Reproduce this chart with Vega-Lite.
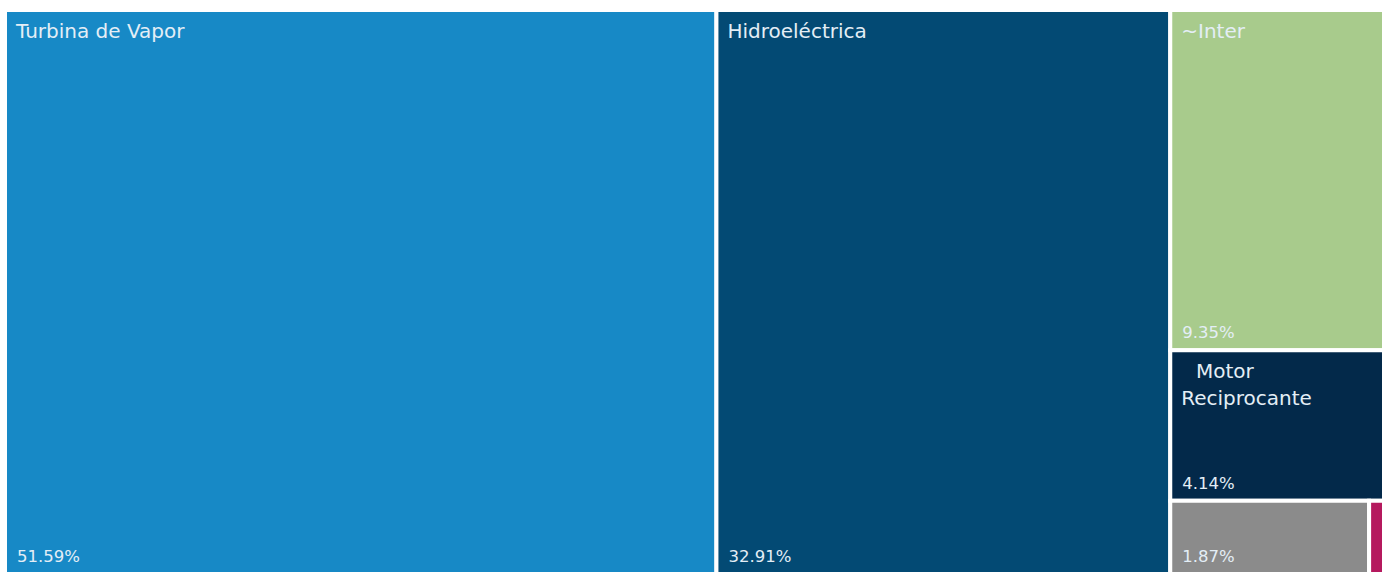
{
  "$schema": "https://vega.github.io/schema/vega-lite/v6.json",
  "autosize": "none",
  "padding": {"left": 5, "top": 10, "right": 0, "bottom": 0},
  "width": 1379,
  "height": 564,
  "background": "white",
  "config": {"view": {"stroke": null}},
  "data": {
    "values": [
      {"name": "Turbina de Vapor", "label": "Turbina de Vapor", "pct": 51.59, "col": 1, "row": 1, "sub": 1},
      {"name": "Hidroeléctrica", "label": "Hidroeléctrica", "pct": 32.91, "col": 2, "row": 1, "sub": 1},
      {"name": "~Inter", "label": "~Inter", "pct": 9.35, "col": 3, "row": 1, "sub": 1},
      {"name": "Motor Reciprocante", "label": "\u2800Motor\nReciprocante", "pct": 4.14, "col": 3, "row": 2, "sub": 1},
      {"name": "Otros", "label": "", "pct": 1.87, "col": 3, "row": 3, "sub": 1},
      {"name": "Resto", "label": "", "pct": 0.14, "col": 3, "row": 3, "sub": 2}
    ]
  },
  "transform": [
    {"window": [{"op": "sum", "field": "pct", "as": "cumAll"}], "sort": [{"field": "col"}, {"field": "row"}, {"field": "sub"}], "frame": [null, 0]},
    {"joinaggregate": [{"op": "sum", "field": "pct", "as": "colTotal"}, {"op": "max", "field": "cumAll", "as": "colEnd"}], "groupby": ["col"]},
    {"calculate": "datum.colEnd - datum.colTotal", "as": "colStart"},
    {"window": [{"op": "sum", "field": "pct", "as": "cumCol"}], "groupby": ["col"], "sort": [{"field": "row"}, {"field": "sub"}], "frame": [null, 0]},
    {"joinaggregate": [{"op": "sum", "field": "pct", "as": "rowTotal"}, {"op": "max", "field": "cumCol", "as": "rowEnd"}], "groupby": ["col", "row"]},
    {"calculate": "datum.rowEnd - datum.rowTotal", "as": "rowStart"},
    {"window": [{"op": "sum", "field": "pct", "as": "cumRow"}], "groupby": ["col", "row"], "sort": [{"field": "sub"}], "frame": [null, 0]},
    {"calculate": "datum.colStart + datum.colTotal * (datum.cumRow - datum.pct) / datum.rowTotal", "as": "x0"},
    {"calculate": "datum.colStart + datum.colTotal * datum.cumRow / datum.rowTotal", "as": "x1"},
    {"calculate": "datum.rowStart / datum.colTotal", "as": "y0"},
    {"calculate": "datum.rowEnd / datum.colTotal", "as": "y1"},
    {"calculate": "format(datum.pct, '.2f') + '%'", "as": "pctText"}
  ],
  "encoding": {
    "x": {"field": "x0", "type": "quantitative", "scale": {"domain": [0, 100], "nice": false, "zero": false}, "axis": null}
  },
  "layer": [
    {
      "mark": {"type": "rect", "stroke": "white", "strokeWidth": 4},
      "encoding": {
        "x2": {"field": "x1"},
        "y": {"field": "y0", "type": "quantitative", "scale": {"domain": [0, 1], "nice": false, "zero": false, "reverse": true}, "axis": null},
        "y2": {"field": "y1"},
        "color": {
          "field": "name", "type": "nominal", "legend": null,
          "scale": {
            "domain": ["Turbina de Vapor", "Hidroeléctrica", "~Inter", "Motor Reciprocante", "Otros", "Resto"],
            "range": ["#1789C6", "#034A74", "#A8CB8C", "#03294A", "#8B8B8B", "#B5195E"]
          }
        },
        "tooltip": [{"field": "name"}, {"field": "pctText"}]
      }
    },
    {
      "mark": {"type": "text", "align": "left", "baseline": "top", "dx": 11, "dy": 12, "font": "DejaVu Sans", "fontSize": 20, "fill": "#e4eef6", "lineBreak": "\n", "lineHeight": 27},
      "encoding": {
        "y": {"field": "y0", "type": "quantitative"},
        "text": {"field": "label"}
      }
    },
    {
      "transform": [{"filter": "datum.pct > 1"}],
      "mark": {"type": "text", "align": "left", "baseline": "alphabetic", "dx": 12, "dy": -12, "font": "DejaVu Sans", "fontSize": 16.5, "fill": "#e4eef6"},
      "encoding": {
        "y": {"field": "y1", "type": "quantitative"},
        "text": {"field": "pctText"}
      }
    }
  ]
}
